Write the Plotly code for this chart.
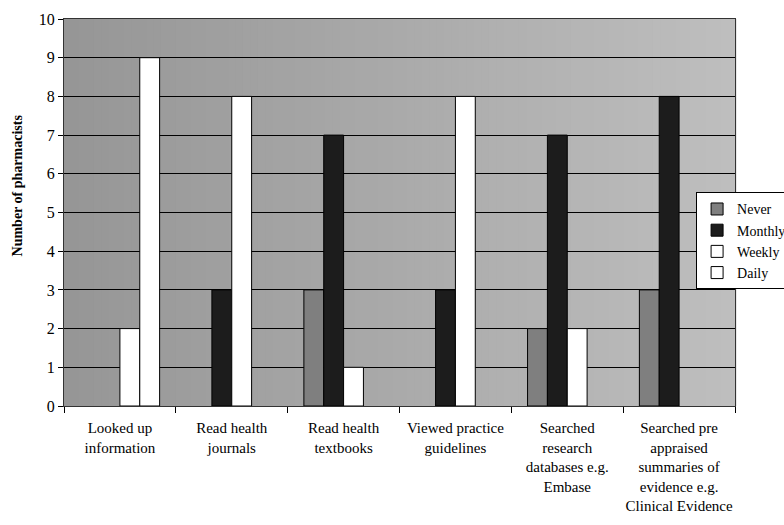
import plotly.graph_objects as go

# Survey categories (x axis)
categories = [
    "Looked up<br>information",
    "Read health<br>journals",
    "Read health<br>textbooks",
    "Viewed practice<br>guidelines",
    "Searched<br>research<br>databases e.g.<br>Embase",
    "Searched pre<br>appraised<br>summaries of<br>evidence e.g.<br>Clinical Evidence",
]

# Number of pharmacists per frequency
never = [0, 0, 3, 0, 2, 3]
monthly = [0, 3, 7, 3, 7, 8]
weekly = [2, 8, 1, 8, 2, 0]
daily = [9, 0, 0, 0, 0, 0]

y_ticks = list(range(0, 11))
y_title = "Number of pharmacists"

series = [
    ("Never", never, "#7f7f7f"),
    ("Monthly", monthly, "#1c1c1c"),
    ("Weekly", weekly, "#ffffff"),
    ("Daily", daily, "#ffffff"),
]

font_family = "Times New Roman, Liberation Serif, DejaVu Serif, serif"

fig = go.Figure()
for name, vals, color in series:
    # empty counts are left out so no outline is drawn on the baseline
    fig.add_trace(go.Bar(
        x=categories, y=[v if v else None for v in vals], name=name,
        marker=dict(color=color, line=dict(color="#000000", width=1)),
    ))

# Horizontal grey gradient behind the plotting area
n_strips = 90
c0, c1 = 150, 190
shapes = []
for i in range(n_strips):
    t = i / (n_strips - 1)
    c = int(round(c0 + (c1 - c0) * t))
    shapes.append(dict(
        type="rect", xref="x domain", yref="y domain",
        x0=i / n_strips, x1=(i + 1) / n_strips + 0.002, y0=0, y1=1,
        fillcolor=f"rgb({c},{c},{c})", line=dict(width=0), layer="below",
    ))

fig.update_layout(
    width=784, height=525,
    margin=dict(l=64, r=49, t=19, b=119, autoexpand=False),
    paper_bgcolor="#ffffff",
    plot_bgcolor="#a8a8a8",
    barmode="group",
    bargap=0.29,
    bargroupgap=0,
    font=dict(family=font_family, size=14, color="#000000"),
    shapes=shapes,
    legend=dict(
        x=0.942, y=0.552, xanchor="left", yanchor="top",
        bgcolor="#ffffff", bordercolor="#000000", borderwidth=1,
        font=dict(family=font_family, size=14, color="#000000"),
        itemwidth=30, tracegroupgap=2,
    ),
    showlegend=True,
    annotations=[dict(
        text=f"<b>{y_title}</b>", textangle=-90,
        xref="paper", yref="paper", x=-0.07, y=0.57,
        xanchor="center", yanchor="middle", showarrow=False,
        font=dict(family=font_family, size=14, color="#000000"),
    )],
)

fig.update_xaxes(
    type="category",
    tickson="boundaries",
    ticks="outside", ticklen=6, tickcolor="#000000",
    showline=True, linecolor="#333333", linewidth=1,
    showgrid=False, mirror=True,
    tickfont=dict(family=font_family, size=15, color="#000000"),
    ticklabelstandoff=8,
    tickangle=0,
)
fig.update_yaxes(
    range=[0, 10],
    tickvals=y_ticks,
    ticktext=[str(v) for v in y_ticks],
    ticks="outside", ticklen=5, tickcolor="#000000",
    showline=True, linecolor="#333333", linewidth=1, mirror=True,
    showgrid=True, gridcolor="#000000", gridwidth=1,
    zeroline=False,
    tickfont=dict(family=font_family, size=16, color="#000000"),
)

fig.write_html("out.html")
